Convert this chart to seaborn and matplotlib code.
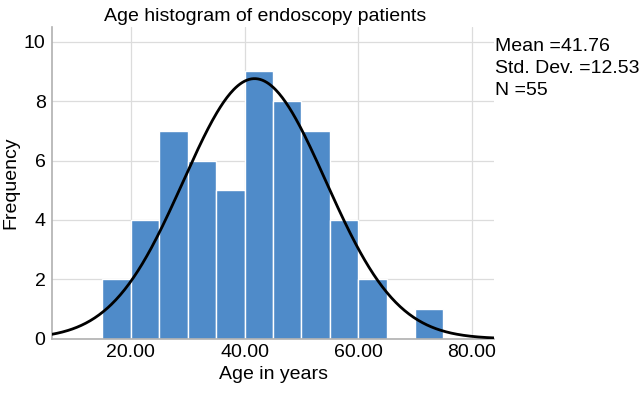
import numpy as np
import pandas as pd
import matplotlib
matplotlib.use("Agg")
import matplotlib.pyplot as plt
import seaborn as sns

# bin edges (width 5) and counts
bin_edges = [15, 20, 25, 30, 35, 40, 45, 50, 55, 60, 65, 70, 75]
counts = [2, 4, 7, 6, 5, 9, 8, 7, 4, 2, 0, 1]
mean_age = 41.76
std_age = 12.53
n_patients = 55

x_ticks = [20, 40, 60, 80]
x_tick_labels = ["20.00", "40.00", "60.00", "80.00"]
y_ticks = [0, 2, 4, 6, 8, 10]

sns.set_style("white")
plt.rcParams['font.family'] = ['Liberation Sans', 'DejaVu Sans']
plt.rcParams['text.color'] = 'black'
plt.rcParams['axes.labelcolor'] = 'black'
plt.rcParams['xtick.color'] = 'black'
plt.rcParams['ytick.color'] = 'black'

fig = plt.figure(figsize=(6.4, 3.94), dpi=100)
ax = fig.add_axes([0.082, 0.14, 0.69, 0.792])

centers = [(a + b) / 2 for a, b in zip(bin_edges[:-1], bin_edges[1:])]
hist_df = pd.DataFrame({'Age': centers, 'Count': counts})
sns.histplot(data=hist_df, x='Age', weights='Count', bins=bin_edges,
             color='#4f8bc9', alpha=1.0, edgecolor='white', linewidth=1.0, ax=ax, zorder=2)

# fitted normal curve scaled to counts
binw = bin_edges[1] - bin_edges[0]
xs = np.linspace(6, 84, 400)
ys = n_patients * binw / (std_age * np.sqrt(2 * np.pi)) * np.exp(-0.5 * ((xs - mean_age) / std_age) ** 2)
sns.lineplot(x=xs, y=ys, color='black', linewidth=2, ax=ax, zorder=3)

ax.set_xlim(6.2, 83.9)
ax.set_ylim(0, 10.5)
ax.set_xticks(x_ticks)
ax.set_xticklabels(x_tick_labels)
ax.set_yticks(y_ticks)
ax.tick_params(axis='both', length=0, labelsize=14)
ax.tick_params(axis='y', pad=5)
ax.tick_params(axis='x', pad=4)
ax.grid(True, color='#dcdcdc', linewidth=0.9, zorder=0)
ax.set_axisbelow(True)
for s in ['top', 'right']:
    ax.spines[s].set_visible(False)
for s in ['left', 'bottom']:
    ax.spines[s].set_color('#b0b0b0')
    ax.spines[s].set_linewidth(1.2)

ax.set_xlabel('Age in years', fontsize=14, labelpad=3)
ax.set_ylabel('Frequency', fontsize=14)
ax.yaxis.set_label_coords(-0.074, 0.5)
ax.set_title('Age histogram of endoscopy patients', fontsize=14, pad=4, x=0.481)

fig.text(0.773, 0.883, f"Mean ={mean_age:.2f}", fontsize=14, va='center')
fig.text(0.773, 0.827, f"Std. Dev. ={std_age:.2f}", fontsize=14, va='center')
fig.text(0.773, 0.771, f"N ={n_patients}", fontsize=14, va='center')

fig.savefig('out.png', dpi=100)
